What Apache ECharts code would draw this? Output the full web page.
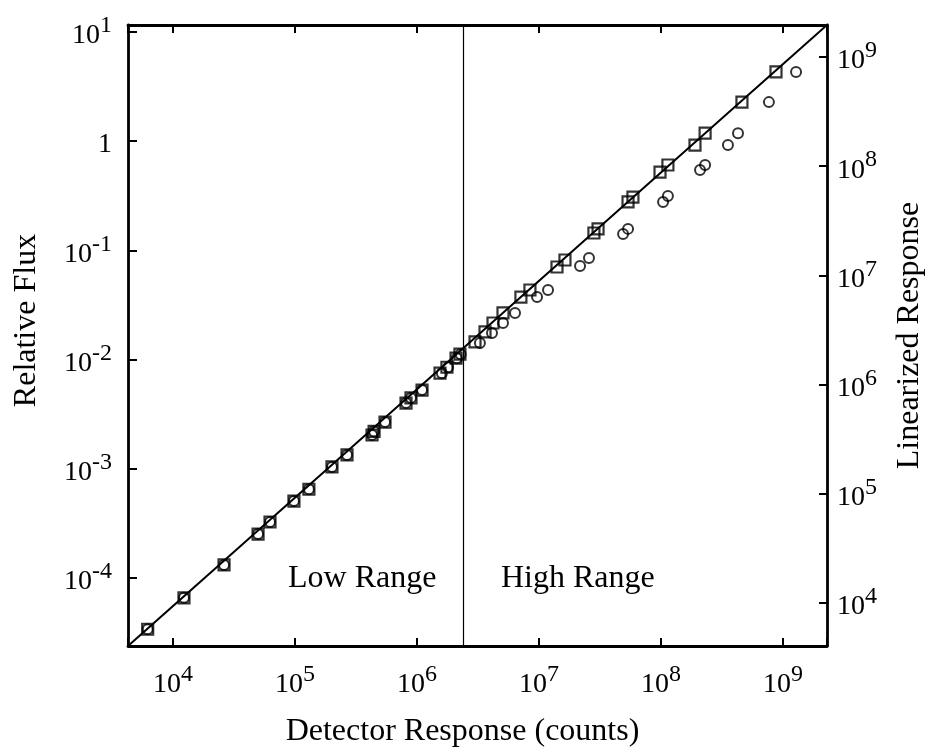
<!DOCTYPE html>
<html>
<head>
<meta charset="utf-8">
<script src="https://cdn.jsdelivr.net/npm/echarts@6/dist/echarts.min.js"></script>
<style>
html,body{margin:0;padding:0;background:#fff;}
#chart{width:926px;height:749px;}
</style>
</head>
<body>
<div id="chart"></div>
<script>
// ---- axis bounds (log axes) ----
var xRange = [4276, 2.296e9];        // Detector Response (counts)
var yRange = [2.39e-5, 11.53];       // Relative Flux
var y2Range = [4036, 1.963e9];       // Linearized Response

// ---- fitted line (corner to corner) ----
var fitX = [4276, 2.296e9];
var fitY = [2.39e-5, 11.53];

// ---- range boundary ----
var rangeBoundary = 2.38e6;

// ---- squares: linearized data ----
var squareX = [6.2e3, 1.23e4, 2.62e4, 4.98e4, 6.24e4, 9.8e4, 1.30e5, 2.01e5, 2.67e5, 4.28e5, 4.45e5, 5.47e5,
  8.13e5, 8.93e5, 1.10e6, 1.545e6, 1.76e6, 2.09e6, 2.25e6,
  2.99e6, 3.61e6, 4.20e6, 5.07e6, 7.11e6, 8.43e6, 1.405e7, 1.633e7, 2.82e7, 3.05e7, 5.37e7, 5.89e7,
  9.82e7, 1.14e8, 1.90e8, 2.30e8, 4.61e8, 8.77e8];
var squareY = [3.4e-5, 6.6e-5, 1.32e-4, 2.53e-4, 3.26e-4, 5.07e-4, 6.5e-4, 1.04e-3, 1.34e-3, 2.04e-3, 2.2e-3, 2.68e-3,
  4.0e-3, 4.45e-3, 5.26e-3, 7.5e-3, 8.5e-3, 1.03e-2, 1.12e-2,
  1.45e-2, 1.79e-2, 2.16e-2, 2.67e-2, 3.73e-2, 4.33e-2, 7.03e-2, 8.15e-2, 0.144, 0.157, 0.277, 0.307,
  0.520, 0.603, 0.918, 1.18, 2.27, 4.29];

// ---- circles: raw data ----
var circleX = [6.2e3, 1.23e4, 2.62e4, 4.98e4, 6.24e4, 9.8e4, 1.30e5, 2.01e5, 2.67e5, 4.28e5, 4.45e5, 5.47e5,
  8.13e5, 8.93e5, 1.10e6, 1.60e6, 1.80e6, 2.12e6, 2.28e6,
  3.28e6, 4.12e6, 5.07e6, 6.36e6, 9.64e6, 1.186e7, 2.17e7, 2.57e7, 4.89e7, 5.37e7, 1.04e8, 1.14e8,
  2.09e8, 2.30e8, 3.54e8, 4.28e8, 7.67e8, 1.28e9];
var circleY = [3.4e-5, 6.6e-5, 1.32e-4, 2.53e-4, 3.26e-4, 5.07e-4, 6.5e-4, 1.04e-3, 1.34e-3, 2.04e-3, 2.2e-3, 2.68e-3,
  4.0e-3, 4.45e-3, 5.26e-3, 7.5e-3, 8.5e-3, 1.03e-2, 1.12e-2,
  1.42e-2, 1.75e-2, 2.16e-2, 2.67e-2, 3.73e-2, 4.33e-2, 7.18e-2, 8.49e-2, 0.141, 0.157, 0.277, 0.314,
  0.543, 0.603, 0.918, 1.18, 2.27, 4.29];

var annotations = ['Low Range', 'High Range'];

function zip(a, b) { return a.map(function (v, i) { return [v, b[i]]; }); }

var FONT = 'Liberation Serif, Times New Roman, serif';
var rich = {
  b: { fontFamily: FONT, fontSize: 28, color: '#000', lineHeight: 36, verticalAlign: 'bottom' },
  s: { fontFamily: FONT, fontSize: 24, color: '#000', lineHeight: 16, verticalAlign: 'top' }
};
function powLabel(v) {
  var l = Math.log10(v), e = Math.round(l);
  if (Math.abs(l - e) > 1e-6) return '';
  if (e === 0) return '{b|1}';
  return '{b|10}{s|' + e + '}';
}
var lineCol = '#000';

var chart = echarts.init(document.getElementById('chart'), null, { renderer: 'canvas' });
chart.setOption({
  backgroundColor: '#fff',
  animation: false,
  grid: { left: 128, right: 99, top: 25, bottom: 103, containLabel: false, outerBoundsMode: 'none' },
  xAxis: [{
    type: 'log', logBase: 10, min: xRange[0], max: xRange[1], position: 'bottom',
    name: 'Detector Response (counts)', nameLocation: 'middle', nameGap: 70,
    nameTextStyle: { fontFamily: FONT, fontSize: 32, color: '#000', padding: [0, 30, 0, 0] },
    axisLine: { lineStyle: { color: lineCol, width: 2.8 } },
    axisTick: { inside: true, length: 8, lineStyle: { color: lineCol, width: 2 } },
    minorTick: { show: false },
    axisLabel: { formatter: powLabel, rich: rich, margin: 17, showMinLabel: true, showMaxLabel: true },
    splitLine: { show: false }
  }, {
    type: 'log', logBase: 10, min: xRange[0], max: xRange[1], position: 'top',
    axisLine: { lineStyle: { color: lineCol, width: 2.8 } },
    axisTick: { inside: true, length: 8, lineStyle: { color: lineCol, width: 2 } },
    axisLabel: { show: false },
    splitLine: { show: false }
  }],
  yAxis: [{
    type: 'log', logBase: 10, min: yRange[0], max: yRange[1], position: 'left',
    name: 'Relative Flux', nameLocation: 'middle', nameGap: 85, nameRotate: 90,
    nameTextStyle: { fontFamily: FONT, fontSize: 32, color: '#000', padding: [0, 0, 0, 30] },
    axisLine: { lineStyle: { color: lineCol, width: 2.8 } },
    axisTick: { inside: true, length: 9, lineStyle: { color: lineCol, width: 2 } },
    axisLabel: { formatter: powLabel, rich: rich, margin: 16 },
    splitLine: { show: false }
  }, {
    type: 'log', logBase: 10, min: y2Range[0], max: y2Range[1], position: 'right',
    name: 'Linearized Response', nameLocation: 'middle', nameGap: 67, nameRotate: 90,
    nameTextStyle: { fontFamily: FONT, fontSize: 32, color: '#000' },
    axisLine: { lineStyle: { color: lineCol, width: 2.8 } },
    axisTick: { inside: true, length: 8, lineStyle: { color: lineCol, width: 2 } },
    axisLabel: { formatter: powLabel, rich: rich, margin: 10 },
    splitLine: { show: false }
  }],
  series: [{
    name: 'fit', type: 'line', xAxisIndex: 0, yAxisIndex: 0,
    data: zip(fitX, fitY), showSymbol: false, symbol: 'none',
    lineStyle: { color: '#000', width: 2 }, z: 3,
    markLine: {
      silent: true, symbol: 'none', label: { show: false },
      lineStyle: { color: '#000', width: 1.2, type: 'solid' },
      data: [{ xAxis: rangeBoundary }]
    }
  }, {
    name: 'Linearized', type: 'scatter', xAxisIndex: 0, yAxisIndex: 0,
    data: zip(squareX, squareY), symbol: 'rect', symbolSize: 11,
    itemStyle: { color: 'rgba(0,0,0,0)', borderColor: '#000', borderWidth: 2.2 }, z: 4
  }, {
    name: 'Raw', type: 'scatter', xAxisIndex: 0, yAxisIndex: 0,
    data: zip(circleX, circleY), symbol: 'circle', symbolSize: 10,
    itemStyle: { color: 'rgba(0,0,0,0)', borderColor: '#000', borderWidth: 2 }, z: 4
  }],
  graphic: [
    { type: 'text', left: 288, top: 563, style: { text: annotations[0], font: '32px ' + FONT, fill: '#000' } },
    { type: 'text', left: 501, top: 563, style: { text: annotations[1], font: '32px ' + FONT, fill: '#000' } }
  ]
});
</script>
</body>
</html>
